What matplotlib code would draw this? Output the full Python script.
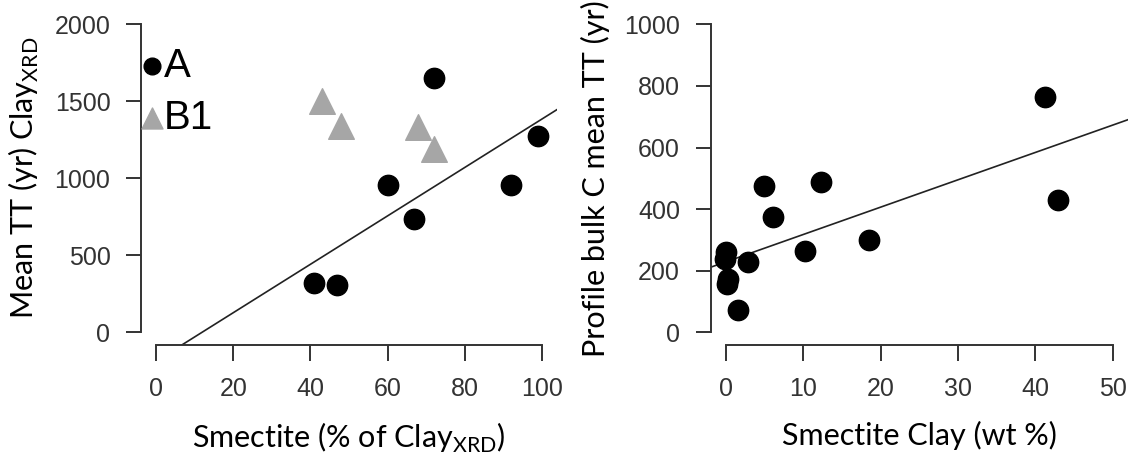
import numpy as np
import matplotlib
matplotlib.use("Agg")
from matplotlib import pyplot as plt

# left panel: smectite % of clay vs mean TT of clay
smec_a = [72, 60, 67, 41, 47, 92, 99]
tt_a = [1650, 955, 735, 320, 310, 955, 1275]
smec_b1 = [43, 48, 68, 72]
tt_b1 = [1500, 1340, 1330, 1190]

# right panel: smectite clay wt% vs profile bulk C mean TT
smec_wt = [41.3, 43.0, 4.9, 12.3, 6.1, 10.25, 18.5, 2.8, 0.05, -0.1, 0.3, 0.1, 1.5]
bulk_tt = [765, 430, 476, 487, 375, 264, 300, 229, 262, 237, 172, 157, 72]

left_xticks = [0, 20, 40, 60, 80, 100]
left_yticks = [0, 500, 1000, 1500, 2000]
right_xticks = [0, 10, 20, 30, 40, 50]
right_yticks = [0, 200, 400, 600, 800, 1000]

tick_font = "Liberation Sans"
label_font = "Lato"
grey_txt = "#333333"

fig = plt.figure(figsize=(11.28, 4.58), dpi=100)
ax1 = fig.add_axes([0.125, 0.2476, 0.3688, 0.7262])
ax2 = fig.add_axes([0.6299, 0.2476, 0.3701, 0.7262])


def style(ax, xt, yt):
    for s in ["top", "right"]:
        ax.spines[s].set_visible(False)
    for s in ["left", "bottom"]:
        ax.spines[s].set_linewidth(1.4)
        ax.spines[s].set_color("#333333")
    ax.spines["left"].set_bounds(yt[0], yt[-1])
    ax.spines["bottom"].set_bounds(xt[0], xt[-1])
    ax.set_xticks(xt)
    ax.set_yticks(yt)
    ax.tick_params(axis="both", direction="out", width=1.4, color="#333333",
                   labelcolor=grey_txt, labelsize=18)
    ax.tick_params(axis="x", length=11.5, pad=12)
    ax.tick_params(axis="y", length=11, pad=11)
    for lab in ax.get_xticklabels() + ax.get_yticklabels():
        lab.set_fontfamily(tick_font)


# left
ax1.set_xlim(-4, 104)
ax1.set_ylim(-80, 2080)
h_a = ax1.scatter(smec_a, tt_a, s=215, color="black", zorder=3, label="A")
h_b = ax1.scatter(smec_b1, tt_b1, s=340, marker="^", color="#a6a6a6", zorder=3, label="B1")
k, b = np.polyfit(smec_a, tt_a, 1)
xs = np.array([-4, 104])
ax1.plot(xs, k * xs + b, color="#222222", lw=1.2, zorder=2)
style(ax1, left_xticks, left_yticks)
ax1.set_xlabel(r"Smectite (% of Clay$_{\mathregular{XRD}}$)", fontfamily=label_font,
               fontsize=22, labelpad=14)
ax1.set_ylabel(r"Mean TT (yr) Clay$_{\mathregular{XRD}}$", fontfamily=label_font,
               fontsize=22, labelpad=10)
leg = ax1.legend(handles=[h_a, h_b], loc="upper left", bbox_to_anchor=(-0.012, 0.895),
                 frameon=False, markerscale=0.82, handletextpad=-0.1, handlelength=0.8,
                 labelspacing=0.35, borderaxespad=0, borderpad=0,
                 prop={"family": tick_font, "size": 29})

# right
ax2.set_xlim(-2, 52)
ax2.set_ylim(-40, 1040)
ax2.scatter(smec_wt, bulk_tt, s=215, color="black", zorder=3)
k2, b2 = np.polyfit(smec_wt, bulk_tt, 1)
xs2 = np.array([-2, 52])
ax2.plot(xs2, k2 * xs2 + b2, color="#222222", lw=1.2, zorder=2)
style(ax2, right_xticks, right_yticks)
ax2.set_xlabel("Smectite Clay (wt %)", fontfamily=label_font, fontsize=22, labelpad=14)
ax2.set_ylabel("Profile bulk C mean TT (yr)", fontfamily=label_font, fontsize=22, labelpad=10)

fig.savefig("out.png", dpi=100)
